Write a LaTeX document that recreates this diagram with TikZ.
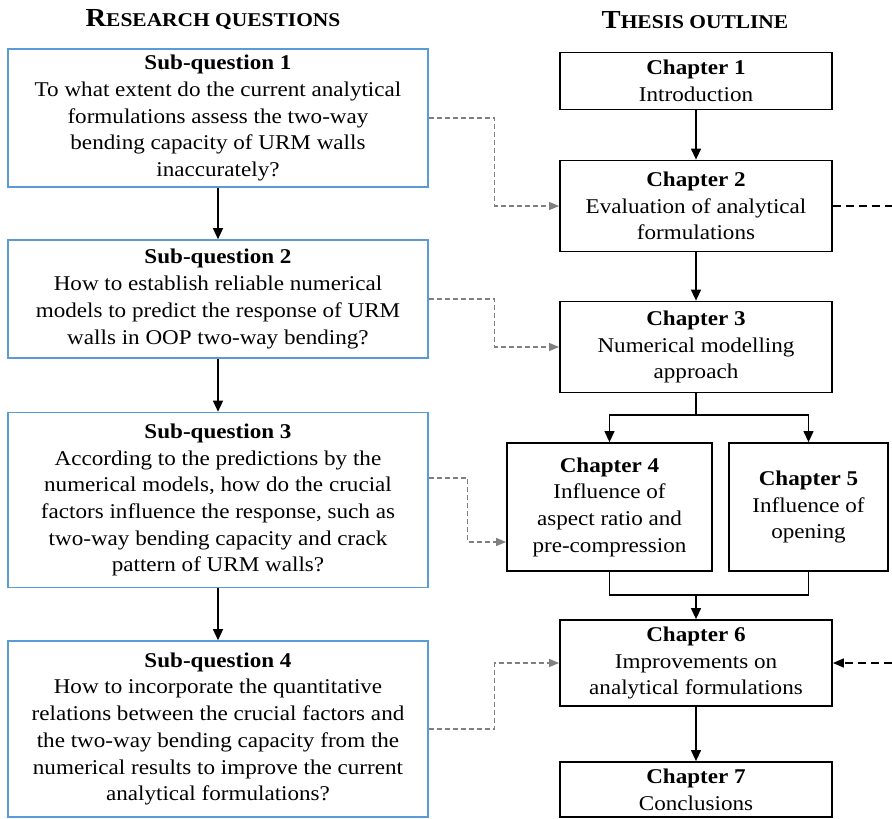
\documentclass[tikz,border=0pt]{standalone}
\usepackage{fontspec}
\setmainfont[FakeStretch=1.1]{Liberation Serif}
\usetikzlibrary{arrows.meta}

\definecolor{qblue}{RGB}{91,155,213}
\definecolor{linkgray}{RGB}{128,128,128}

\newcommand{\fakesc}[2]{{\fontsize{26}{26}\selectfont #1}{\fontsize{19.5}{19.5}\selectfont #2}}

\tikzset{
  question/.style={draw=qblue, line width=1.6pt, minimum width=420pt, align=center,
    font=\fontsize{21}{26.7}\selectfont, inner sep=0pt},
  chapter/.style={draw=black, line width=1.8pt, minimum width=272pt, align=center,
    font=\fontsize{21}{26.7}\selectfont, inner sep=0pt},
  flow/.style={line width=1.3pt, -{Triangle[length=11pt,width=10pt]}},
  link/.style={draw=linkgray, line width=1.3pt, dash pattern=on 5pt off 3pt,
    -{Triangle[length=10pt,width=8pt]}},
  outer/.style={line width=1.6pt, dash pattern=on 8pt off 5pt},
}

\begin{document}
\begin{tikzpicture}[x=1pt,y=-1pt]
\useasboundingbox (0,0) rectangle (892,819);

% headings
\node (rqhead) at (213,20) {\bfseries\fakesc{R}{ESEARCH QUESTIONS}};
\node (tohead) at (695,20) {\bfseries\fakesc{T}{HESIS OUTLINE}};

% research questions
\node (sq1) [question, minimum height=138pt] at (218,118) {
\textbf{Sub-question 1}\\
To what extent do the current analytical\\
formulations assess the two-way\\
bending capacity of URM walls\\
inaccurately?
};
\node (sq2) [question, minimum height=118pt] at (218,299) {
\textbf{Sub-question 2}\\
How to establish reliable numerical\\
models to predict the response of URM\\
walls in OOP two-way bending?
};
\node (sq3) [question, minimum height=175pt] at (218,500) {
\textbf{Sub-question 3}\\
According to the predictions by the\\
numerical models, how do the crucial\\
factors influence the response, such as\\
two-way bending capacity and crack\\
pattern of URM walls?
};
\node (sq4) [question, minimum height=176pt] at (218,729) {
\textbf{Sub-question 4}\\
How to incorporate the quantitative\\
relations between the crucial factors and\\
the two-way bending capacity from the\\
numerical results to improve the current\\
analytical formulations?
};

% thesis outline
\node (ch1) [chapter, minimum height=57pt] at (696,81) {\textbf{Chapter 1}\\Introduction};
\node (ch2) [chapter, minimum height=91pt] at (696,206) {\textbf{Chapter 2}\\Evaluation of analytical\\formulations};
\node (ch3) [chapter, minimum height=91pt] at (696,347) {\textbf{Chapter 3}\\Numerical modelling\\approach};
\node (ch4) [chapter, minimum width=205pt, minimum height=128pt] at (609.5,507) {\textbf{Chapter 4}\\Influence of\\aspect ratio and\\pre-compression};
\node (ch5) [chapter, minimum width=159pt, minimum height=128pt] at (808.5,507) {\textbf{Chapter 5}\\Influence of\\opening};
\node (ch6) [chapter, minimum height=86pt] at (696,663) {\textbf{Chapter 6}\\Improvements on\\analytical formulations};
\node (ch7) [chapter, minimum height=55pt] at (696,789.5) {\textbf{Chapter 7}\\Conclusions};

\coordinate (split) at (696,415);
\coordinate (merge) at (696,595);
\coordinate (edgeA) at (892,206);
\coordinate (edgeB) at (892,663);

% question flow
\draw [flow] (sq1) -- (sq2);
\draw [flow] (sq2) -- (sq3);
\draw [flow] (sq3) -- (sq4);

% chapter flow
\draw [flow] (ch1) -- (ch2);
\draw [flow] (ch2) -- (ch3);
\draw [line width=1.3pt] (ch3) -- (split);
\draw [flow] (split) -| (ch4.north);
\draw [flow] (split) -| (ch5.north);
\draw [line width=1.3pt] (ch4.south) |- (merge) -| (ch5.south);
\draw [flow] (merge) -- (ch6);
\draw [flow] (ch6) -- (ch7);

% questions to chapters
\draw [link] (sq1.east) -- ++(66,0) |- (ch2.west);
\draw [link] (sq2.east) -- ++(66,0) |- (ch3.west);
\draw [link] ([yshift=22pt]sq3.east) -- ++(39,0) |- ([yshift=-35pt]ch4.west);
\draw [link] (sq4.east) -- ++(66,0) |- (ch6.west);

% loop back on the right
\draw [outer] (ch2.east) -- (edgeA);
\draw [outer, -{Triangle[length=11pt,width=9pt]}] (edgeB) -- (ch6.east);
\end{tikzpicture}
\end{document}
